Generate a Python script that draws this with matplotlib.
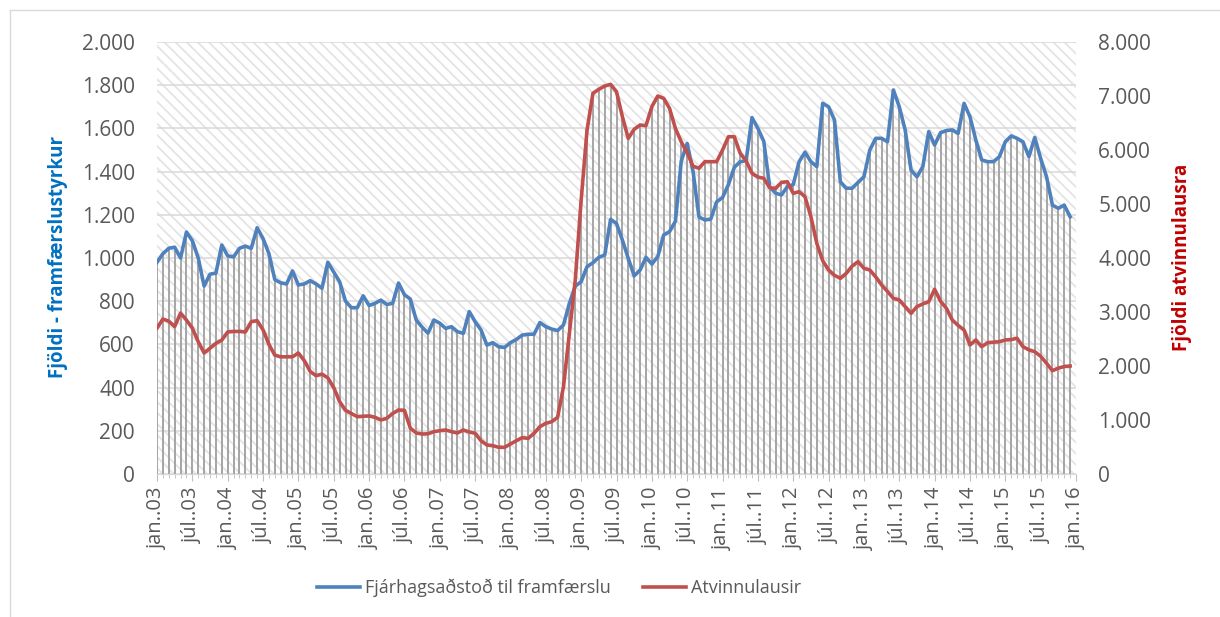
import numpy as np
import matplotlib.pyplot as plt
from matplotlib.patches import Rectangle
from matplotlib.lines import Line2D
from matplotlib.ticker import FixedLocator, MultipleLocator, FuncFormatter

plt.rcParams['font.family'] = ['Open Sans', 'DejaVu Sans']
plt.rcParams['hatch.linewidth'] = 1.3

# monthly values, jan 2003 - dec 2015
fjarhagsadstod = [
    980, 1020, 1045, 1050, 1000, 1120, 1080, 1000, 870, 925, 930, 1060,
    1010, 1005, 1045, 1055, 1045, 1140, 1090, 1020, 900, 885, 880, 940,
    875, 880, 895, 880, 860, 980, 935, 890, 800, 770, 770, 825,
    780, 790, 805, 785, 790, 884, 830, 810, 713, 680, 652, 713,
    698, 674, 682, 659, 651, 752, 705, 667, 597, 608, 589, 586,
    608, 623, 643, 647, 647, 701, 682, 671, 664, 690, 790, 870,
    890, 960, 978, 1003, 1014, 1179, 1160, 1083, 998, 917, 944, 1003,
    972, 1006, 1106, 1122, 1170, 1450, 1530, 1400, 1190, 1176, 1180, 1260,
    1280, 1340, 1420, 1446, 1450, 1650, 1600, 1540, 1330, 1300, 1292, 1330,
    1340, 1446, 1490, 1446, 1423, 1716, 1700, 1639, 1353, 1323, 1323, 1350,
    1376, 1500, 1554, 1554, 1538, 1778, 1700, 1593, 1407, 1376, 1423, 1585,
    1523, 1580, 1590, 1593, 1577, 1716, 1654, 1546, 1454, 1446, 1446, 1469,
    1538, 1565, 1554, 1538, 1469, 1558, 1461, 1376, 1245, 1230, 1245, 1191,
]
atvinnulausir = [
    2700, 2870, 2830, 2730, 2980, 2850, 2700, 2450, 2240, 2330, 2420, 2480,
    2630, 2640, 2640, 2630, 2820, 2840, 2670, 2400, 2200, 2170, 2170, 2170,
    2240, 2100, 1900, 1820, 1850, 1780, 1600, 1340, 1180, 1120, 1060, 1070,
    1075, 1050, 1000, 1030, 1120, 1185, 1180, 850, 760, 740, 745, 784,
    802, 815, 784, 760, 815, 778, 753, 617, 537, 525, 494, 494,
    556, 617, 673, 660, 753, 877, 938, 969, 1049, 1617, 2605, 3593,
    5074, 6370, 7050, 7124, 7185, 7216, 7080, 6617, 6216, 6383, 6463, 6450,
    6802, 7000, 6957, 6772, 6400, 6150, 5950, 5700, 5661, 5784, 5784, 5784,
    6000, 6246, 6246, 5938, 5800, 5568, 5500, 5475, 5300, 5290, 5400, 5413,
    5198, 5228, 5135, 4765, 4272, 3950, 3778, 3680, 3623, 3716, 3850, 3932,
    3809, 3778, 3650, 3500, 3380, 3253, 3222, 3100, 2975, 3100, 3150, 3191,
    3420, 3200, 3068, 2852, 2750, 2667, 2389, 2482, 2358, 2432, 2440, 2450,
    2482, 2490, 2513, 2358, 2300, 2265, 2180, 2050, 1913, 1960, 1990, 2000,
]

tick_labels = []
for yr in range(3, 17):
    tick_labels.append('jan..%02d' % yr)
    if yr < 16:
        tick_labels.append('júl..%02d' % yr)

months = np.arange(len(fjarhagsadstod))
blue = '#4f81bd'
red = '#c0504d'
txt = '#595959'

fig = plt.figure(figsize=(12.2, 6.17), dpi=100)
ax = fig.add_axes([157 / 1220, 1 - 474 / 617, 919 / 1220, 432 / 617])
ax2 = ax.twinx()
ax.set_xlim(0, 156)
ax.set_ylim(0, 2000)
ax2.set_ylim(0, 8000)

# hatched plot area
ax.add_patch(Rectangle((0, 0), 1, 1, transform=ax.transAxes, facecolor='white',
                       edgecolor='#e4e4e4', hatch='\\\\\\', lw=0, zorder=0.1))
ax.set_axisbelow(True)
ax.grid(axis='y', color='#d9d9d9', lw=1.1)

# drop lines, then the series (red one on the right scale)
ax.vlines(months, 0, fjarhagsadstod, colors='#a6a6a6', lw=1.4, zorder=1)
ax.vlines(months, 0, atvinnulausir, colors='#a6a6a6', lw=1.4, zorder=1,
          transform=ax2.transData)
l1, = ax.plot(months, fjarhagsadstod, color=blue, lw=2.6, zorder=3,
              solid_joinstyle='round')
l2, = ax.plot(months, atvinnulausir, color=red, lw=2.6, zorder=4,
              solid_joinstyle='round', transform=ax2.transData)

ax.xaxis.set_major_locator(FixedLocator(np.arange(0, 157, 6)))
ax.set_xticklabels(tick_labels, rotation=90)
ax.xaxis.set_minor_locator(MultipleLocator(1))
ax.tick_params(axis='x', which='major', length=5, color='#bfbfbf', pad=5,
               labelsize=14.5, labelcolor=txt)
ax.tick_params(axis='x', which='minor', length=3, color='#bfbfbf')

ax.set_yticks(np.arange(0, 2001, 200))
ax2.set_yticks(np.arange(0, 8001, 1000))
fmt = FuncFormatter(lambda v, p: '{:,.0f}'.format(v).replace(',', '.'))
ax.yaxis.set_major_formatter(fmt)
ax2.yaxis.set_major_formatter(fmt)
ax.tick_params(axis='y', length=0, pad=16, labelsize=15, labelcolor=txt)
ax2.tick_params(axis='y', length=0, pad=16, labelsize=15, labelcolor=txt)

for s in ['top', 'left', 'right']:
    ax.spines[s].set_visible(False)
ax.spines['bottom'].set_color('#d9d9d9')
for s in ax2.spines.values():
    s.set_visible(False)

fig.text(58 / 1220, 1 - 257 / 617, 'Fjöldi - framfærslustyrkur', rotation=90,
         ha='center', va='center', color='#0070c0', fontsize=13.5, fontweight='bold')
fig.text(1182 / 1220, 1 - 257 / 617, 'Fjöldi atvinnulausra', rotation=90,
         ha='center', va='center', color='#c00000', fontsize=13.5, fontweight='bold')

fig.legend([l1, l2], ['Fjárhagsaðstoð til framfærslu', 'Atvinnulausir'],
           loc='center', bbox_to_anchor=(559 / 1220, 1 - 588 / 617), ncol=2,
           frameon=False, fontsize=13, handlelength=2.4, handletextpad=0.25,
           columnspacing=1.8, labelcolor=txt)

# chart area border
fig.add_artist(Line2D([10 / 1220, 10 / 1220], [0, 1 - 10 / 617], color='#d9d9d9', lw=1))
fig.add_artist(Line2D([10 / 1220, 1], [1 - 10 / 617, 1 - 10 / 617], color='#d9d9d9', lw=1))

fig.savefig('out.png', dpi=100)
